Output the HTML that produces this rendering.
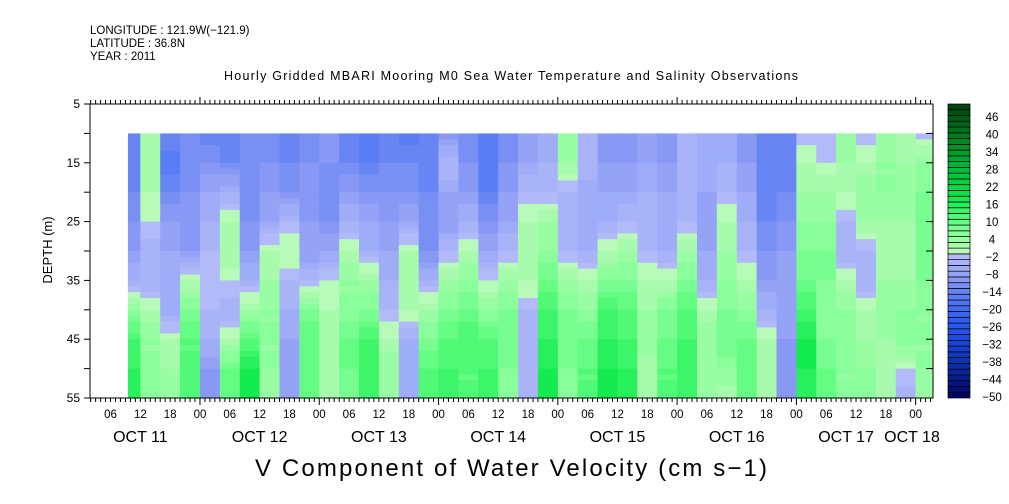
<!DOCTYPE html>
<html><head><meta charset="utf-8"><style>
html,body{margin:0;padding:0;background:#fff;}
svg{display:block;font-family:"Liberation Sans",sans-serif;}
</style></head><body>
<svg id="chart" width="1009" height="504" viewBox="0 0 1009 504">
<text x="90" y="34" font-size="11.5">LONGITUDE : 121.9W(−121.9)</text>
<text x="90" y="47" font-size="11.5">LATITUDE : 36.8N</text>
<text x="90" y="60" font-size="11.5">YEAR : 2011</text>
<text x="511" y="80" font-size="12.5" text-anchor="middle" textLength="574">Hourly Gridded MBARI Mooring M0 Sea Water Temperature and Salinity Observations</text>
<g id="cells"></g>
<g id="axes"></g>
<g id="cbar"></g>
<text x="0" y="0" font-size="13" transform="translate(52,250) rotate(-90)" text-anchor="middle">DEPTH (m)</text>
<text x="511" y="476" font-size="24" font-family="Liberation Sans, sans-serif" text-anchor="middle" textLength="512">V Component of Water Velocity (cm s−1)</text>
</svg>
<script>
// time (hours since Oct 11 00:00) of each column
const times = [10,14,18,22,26,30,34,38,42,46,50,54,58,62,66,70,74,78,82,86,90,94,98,102,106,110,114,118,122,126,130,134,138,142,146,150,154,158,162,166,170];
const depths = [10,15,20,25,30,35,40,45,50,55];
const values = [
[-14,-14,-12,-10,-8,-4,6,14,16,16],
[2,2,2,0,-4,-4,2,6,6,8],
[-12,-16,-12,-8,-6,-6,-6,2,4,4],
[-12,-12,-10,-10,-8,2,8,12,12,14],
[-14,-10,-6,-4,-2,-2,-2,-4,-8,-10],
[-14,-12,-4,2,4,0,-4,2,10,12],
[-10,-12,-12,-10,-8,-4,4,12,18,20],
[-12,-10,-8,-6,2,4,6,6,6,4],
[-14,-12,-10,-2,2,-2,-4,-6,-8,-6],
[-12,-10,-10,-8,-8,-2,8,12,10,10],
[-10,-10,-12,-10,-6,0,2,4,2,2],
[-14,-12,-8,-4,2,6,6,10,10,8],
[-16,-14,-10,-6,-4,4,8,14,14,14],
[-14,-12,-10,-8,-6,-4,-2,2,6,4],
[-16,-12,-10,-6,2,4,2,-4,-6,-6],
[-14,-14,-12,-12,-10,-4,4,8,12,14],
[-10,-2,-6,-8,-2,4,8,12,14,14],
[-12,-10,-8,-4,2,6,10,14,12,12],
[-16,-16,-14,-10,-6,0,6,12,14,14],
[-12,-10,-8,-6,-2,4,8,10,8,6],
[-8,-6,-2,2,4,2,-2,-4,-4,-4],
[-6,-4,-2,4,6,10,14,16,18,18],
[4,4,-2,-4,-2,4,8,10,8,6],
[-4,-2,-6,-6,-4,2,6,10,12,12],
[-10,-8,-6,-4,2,8,14,16,18,18],
[-10,-8,-6,-2,4,8,12,14,16,16],
[-8,-6,-4,-4,-2,2,4,6,2,2],
[-10,-8,-6,-6,-4,2,8,10,12,12],
[-2,-4,-4,-2,4,8,12,14,16,14],
[-6,-4,-6,-8,-6,-4,2,6,4,4],
[-6,-4,-2,2,4,6,8,10,6,2],
[-10,-8,-6,-4,-2,2,6,10,12,10],
[-14,-14,-14,-12,-10,-8,-4,2,4,2],
[-12,-14,-12,-10,-8,-8,-6,-8,-10,-10],
[-2,2,4,6,8,10,14,18,18,16],
[-2,0,4,6,8,8,6,8,10,10],
[4,4,2,-2,-4,2,6,8,6,6],
[-2,2,6,4,-2,-4,2,4,6,8],
[4,6,6,4,2,4,6,4,2,2],
[2,4,6,4,2,4,6,8,0,-4],
[-2,6,8,8,10,8,6,6,6,4]
];
const hourLabels = ["06","12","18","00"];
const dayLabels = ["OCT 11","OCT 12","OCT 13","OCT 14","OCT 15","OCT 16","OCT 17","OCT 18"];
const depthTicks = [5,15,25,35,45,55];
const cbarLabels = [46,40,34,28,22,16,10,4,-2,-8,-14,-20,-26,-32,-38,-44,-50];

const NS="http://www.w3.org/2000/svg";
const X0=90,X1=933,Y0=104,Y1=398;
const xs = t => 80.7 + 4.97*t;
const ys = d => Y0 + (Y1-Y0)*(d-5)/50;
const T0=9.5,T1=171.5;
function mk(tag,attrs,parent){const e=document.createElementNS(NS,tag);for(const k in attrs)e.setAttribute(k,attrs[k]);parent.appendChild(e);return e;}
const negStops=[[-50,[0,0,96]],[-40,[10,42,160]],[-30,[24,72,224]],[-20,[58,104,248]],[-14,[96,128,244]],[-10,[128,148,244]],[-6,[154,168,246]],[-1,[178,186,250]]];
const posStops=[[1,[184,250,184]],[4,[160,252,168]],[8,[130,255,150]],[14,[70,248,112]],[20,[10,232,72]],[30,[0,184,56]],[40,[0,128,32]],[52,[0,64,16]]];
function interp(st,b){
  if(b<=st[0][0])return st[0][1];
  for(let i=0;i<st.length-1;i++){const a=st[i],c=st[i+1];
    if(b>=a[0]&&b<=c[0]){const f=(b-a[0])/(c[0]-a[0]);return a[1].map((x,j)=>Math.round(x+(c[1][j]-x)*f));}}
  return st[st.length-1][1];
}
function col(v){
  let b=Math.floor(v/2)*2+1; b=Math.max(-49,Math.min(51,b));
  const r = b<0?interp(negStops,b):interp(posStops,b);
  return `rgb(${r[0]},${r[1]},${r[2]})`;
}
// heatmap
const cells=document.getElementById('cells');
times.forEach((t,i)=>{
  const ta=Math.max(T0,t-2), tb=Math.min(T1,t+2);
  const xa=xs(ta), xb=xs(tb);
  for(let d=10; d<55; d+=1){
    const dm=d+0.5; let k=Math.min(depths.length-2,Math.floor((dm-10)/5));
    const f=(dm-depths[k])/5; const v=values[i][k]*(1-f)+values[i][k+1]*f;
    const r=mk('rect',{x:xa.toFixed(2),y:ys(d).toFixed(2),width:(xb-xa+0.4).toFixed(2),height:(ys(d+1)-ys(d)+0.4).toFixed(2),fill:col(v)},cells);
    
    
  }
});
// axes
const ax=document.getElementById('axes');
mk('rect',{x:X0,y:Y0,width:X1-X0,height:Y1-Y0,fill:'none',stroke:'#000','stroke-width':1},ax);
for(let h=2;h<=171;h++){
  const x=xs(h); const major=h%24===0;
  mk('line',{x1:x,x2:x,y1:Y0,y2:Y0-(major?7:4),stroke:'#000'},ax);
  mk('line',{x1:x,x2:x,y1:Y1,y2:Y1+(major?7:4),stroke:'#000'},ax);
  if(h%6===0){const lb=mk('text',{x:x,y:Y1+20,'font-size':11.5,'text-anchor':'middle'},ax);lb.textContent=hourLabels[(h/6-1)%4];
    
    }
}
dayLabels.forEach((s,i)=>{
  let x=xs(24*i+12); if(i===7)x=912; if(i===6)x=xs(24*6+10);
  const t=mk('text',{x:x,y:Y1+44,'font-size':16,'text-anchor':'middle'},ax);t.textContent=s;
  
  
});
for(let d=5;d<=55;d+=5){
  mk('line',{x1:X0,x2:X0-6,y1:ys(d),y2:ys(d),stroke:'#000'},ax);
  mk('line',{x1:X1,x2:X1-7,y1:ys(d),y2:ys(d),stroke:'#000'},ax);
}
depthTicks.forEach(d=>{
  const t=mk('text',{x:X0-10,y:ys(d)+4,'font-size':12,'text-anchor':'end'},ax);t.textContent=d;
  
  
});
// colorbar
const cb=document.getElementById('cbar');
const CB0=948,CB1=970,bandH=(Y1-Y0)/51;
for(let k=0;k<51;k++){
  const v=-50+2*k; const y=Y1-(k+1)*bandH;
  const r=mk('rect',{x:CB0,y:y.toFixed(2),width:CB1-CB0,height:bandH.toFixed(2),fill:col(v+1),stroke:'#000','stroke-width':0.7},cb);
  
  
}
cbarLabels.forEach(v=>{
  const y=397-2.917*(v+50);
  const t=mk('text',{x:992,y:y+4,'font-size':11.5,'text-anchor':'middle'},cb);t.textContent=v<0?'−'+(-v):v;
  
  
});
</script>
</body></html>
